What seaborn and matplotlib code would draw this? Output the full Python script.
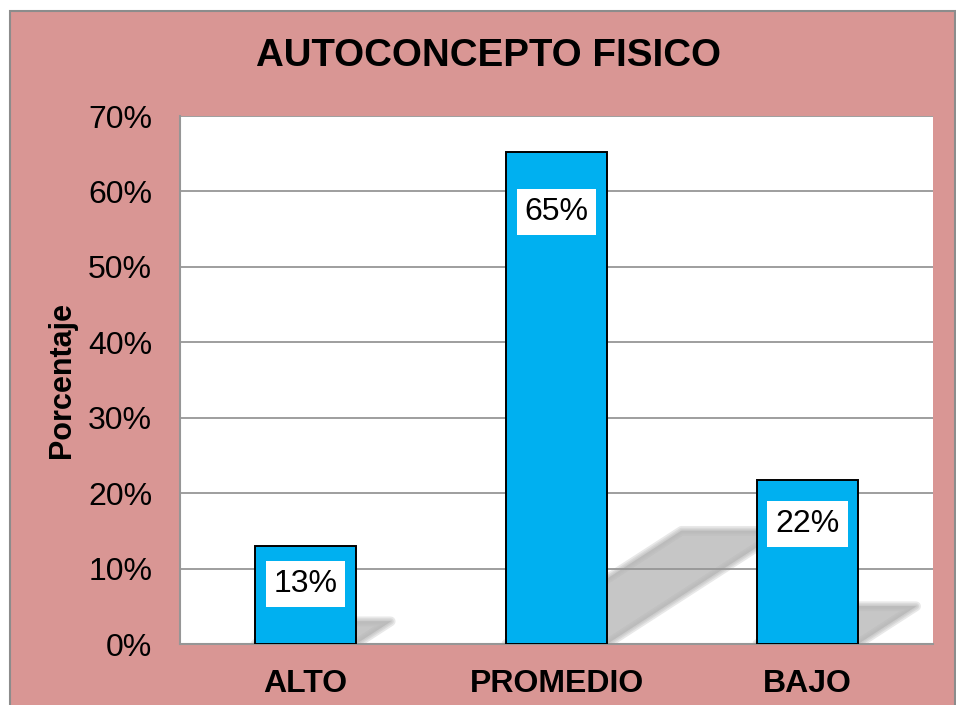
import matplotlib
matplotlib.use("Agg")
import matplotlib.pyplot as plt
import seaborn as sns
from matplotlib.patches import Polygon, Rectangle
from matplotlib.ticker import FuncFormatter

# Data
categories = ["ALTO", "PROMEDIO", "BAJO"]
values = [13.04, 65.22, 21.74]  # percentages
yticks = [0, 10, 20, 30, 40, 50, 60, 70]

# label placement below bar tops (pixels)
label_offsets = [-38, -60, -44]

PINK = "#D99694"
BLUE = "#00B0F0"
GRID = "#969696"

sns.set_style("white")
plt.rcParams["font.family"] = ["Liberation Sans", "DejaVu Sans"]
plt.rcParams["text.color"] = "black"

fig = plt.figure(figsize=(9.56, 7.05), dpi=100, facecolor="white")

# pink chart frame (behind the axes)
fig.patches.append(Rectangle((10 / 956, -0.01), 945 / 956, 1 - 11 / 705 + 0.01,
                             transform=fig.transFigure, facecolor=PINK,
                             edgecolor="#8c8c8c", linewidth=1.5, zorder=-5))

ax = fig.add_axes([180 / 956, 61 / 705, 753 / 956, 528 / 705])
ax.set_facecolor("white")

sns.barplot(x=categories, y=values, color=BLUE, width=0.4, edgecolor="black",
            linewidth=1.4, saturation=1, ax=ax, zorder=3)

ax.set_ylim(0, 70)
ax.set_xlim(-0.5, 2.5)
ax.set_yticks(yticks)
ax.yaxis.set_major_formatter(FuncFormatter(lambda v, p: f"{v:.0f}%"))
ax.set_axisbelow(True)
ax.yaxis.grid(True, color=GRID, linewidth=1.3)
ax.xaxis.grid(False)
ax.tick_params(axis="y", length=0, labelsize=23, pad=20, labelcolor="black")
ax.tick_params(axis="x", length=0, labelsize=23, pad=18, labelcolor="black")
for lab in ax.get_xticklabels():
    lab.set_fontweight("bold")
ax.set_xlabel("")
ax.set_ylabel("")
for side in ["top", "right"]:
    ax.spines[side].set_visible(False)
for side in ["left", "bottom"]:
    ax.spines[side].set_color(GRID)
    ax.spines[side].set_linewidth(1.5)

# soft perspective shadows behind the bars
for bar in ax.patches[:len(values)]:
    x0 = bar.get_x()
    x1 = x0 + bar.get_width()
    h = bar.get_height()
    sh = 0.23 * h
    dx = 0.0107 * h
    pts = [(x0, 0), (x1, 0), (x1 + dx, sh), (x0 + dx, sh)]
    for lw in [7, 4.5, 2.5, 0.5]:
        ax.add_patch(Polygon(pts, closed=True, facecolor="#b8b8b8",
                             edgecolor="#b8b8b8", linewidth=lw, alpha=0.32,
                             joinstyle="round", zorder=0.3))

# value labels
for i, v in enumerate(values):
    ax.annotate(f"{v:.0f}%", xy=(i, v), xytext=(0, label_offsets[i]),
                textcoords="offset pixels", ha="center", va="center",
                fontsize=23, zorder=5, color="black",
                bbox=dict(boxstyle="square,pad=0.25", facecolor="white", edgecolor="none"))

fig.text(489 / 956, 1 - 56 / 705, "AUTOCONCEPTO FISICO", ha="center", va="center",
         fontsize=27.7, fontweight="bold", color="black")
fig.text(62 / 956, 1 - 380 / 705, "Porcentaje", ha="center", va="center",
         rotation=90, fontsize=22, fontweight="bold", color="black")

fig.savefig("out.png", dpi=100, facecolor="white")
